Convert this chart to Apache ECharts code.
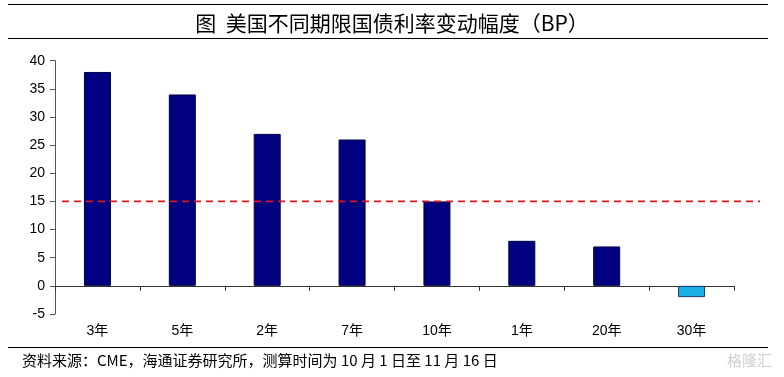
<!DOCTYPE html>
<html><head><meta charset="utf-8">
<script src="https://cdn.jsdelivr.net/npm/echarts@6/dist/echarts.min.js"></script>
<style>html,body{margin:0;padding:0;background:#fff}#c{width:784px;height:377px}</style>
</head><body><div id="c"></div>
<script>
const categories = ['3年','5年','2年','7年','10年','1年','20年','30年'];
const values = [38, 34, 27, 26, 15, 8, 7, -2];
const refLevel = 15;
const yTicks = {min: -5, max: 40, interval: 5};
const titleText = '图  美国不同期限国债利率变动幅度（BP）';
const sourceText = '资料来源：CME，海通证券研究所，测算时间为 10 月 1 日至 11 月 16 日';

const chart = echarts.init(document.getElementById('c'), null, {renderer: 'canvas'});
const font = '"Liberation Sans", Arial, "Noto Sans CJK SC", sans-serif';
chart.setOption({
  animation: false,
  backgroundColor: '#fff',
  title: {
    text: titleText, left: 'center', top: 8,
    textStyle: {fontSize: 21, fontWeight: 'normal', color: '#000', fontFamily: '"Noto Sans CJK SC", sans-serif'}
  },
  graphic: [
    {type: 'line', shape: {x1: 8, y1: 4.5, x2: 768, y2: 4.5}, style: {stroke: '#000', lineWidth: 1}},
    {type: 'line', shape: {x1: 8, y1: 38.5, x2: 768, y2: 38.5}, style: {stroke: '#000', lineWidth: 1}},
    {type: 'line', shape: {x1: 8, y1: 347.5, x2: 768, y2: 347.5}, style: {stroke: '#000', lineWidth: 1}},
    {type: 'text', left: 22, top: 353, style: {text: sourceText, fontSize: 15, fill: '#000', fontFamily: '"Noto Sans CJK SC", sans-serif'}},
    {type: 'text', right: 12, top: 353, style: {text: '格隆汇', fontSize: 15, fill: '#d0d0d0', fontFamily: '"Noto Sans CJK SC", sans-serif'}}
  ],
  grid: [
    {left: 55, right: 50, top: 60.7, bottom: 63},
    {left: 62, right: 24, top: 60.7, bottom: 63}
  ],
  xAxis: [
    {type: 'category', data: categories, gridIndex: 0,
     axisLine: {onZero: true, lineStyle: {color: '#333', width: 1}},
     axisTick: {show: true, length: 5, inside: false, lineStyle: {color: '#333'}},
     axisLabel: {show: false}},
    {type: 'category', data: categories, gridIndex: 0, position: 'bottom',
     axisLine: {show: false, onZero: false}, axisTick: {show: false},
     axisLabel: {show: true, margin: 10, fontSize: 14, color: '#000', fontFamily: font}},
    {type: 'category', data: ['a','b'], gridIndex: 1, boundaryGap: false, show: false}
  ],
  yAxis: [
    {type: 'value', gridIndex: 0, min: yTicks.min, max: yTicks.max, interval: yTicks.interval,
     axisLine: {show: true, lineStyle: {color: '#555', width: 1}},
     axisTick: {show: true, length: 5, lineStyle: {color: '#555'}},
     axisLabel: {fontSize: 14, color: '#000', margin: 10, fontFamily: font},
     splitLine: {show: false}},
    {type: 'value', gridIndex: 1, min: yTicks.min, max: yTicks.max, interval: yTicks.interval, show: false, splitLine: {show: false}}
  ],
  series: [
    {type: 'bar', xAxisIndex: 0, yAxisIndex: 0, data: values.map(v => ({
        value: v,
        itemStyle: {color: v < 0 ? '#1AAEE6' : '#000080', borderColor: v < 0 ? '#1a3a6a' : '#000040', borderWidth: 1}
      })), barWidth: 27},
    {type: 'line', xAxisIndex: 2, yAxisIndex: 1, data: [refLevel, refLevel], symbol: 'none',
     lineStyle: {color: '#E0141E', width: 1.6, type: [7, 5]}}
  ]
});
</script></body></html>
